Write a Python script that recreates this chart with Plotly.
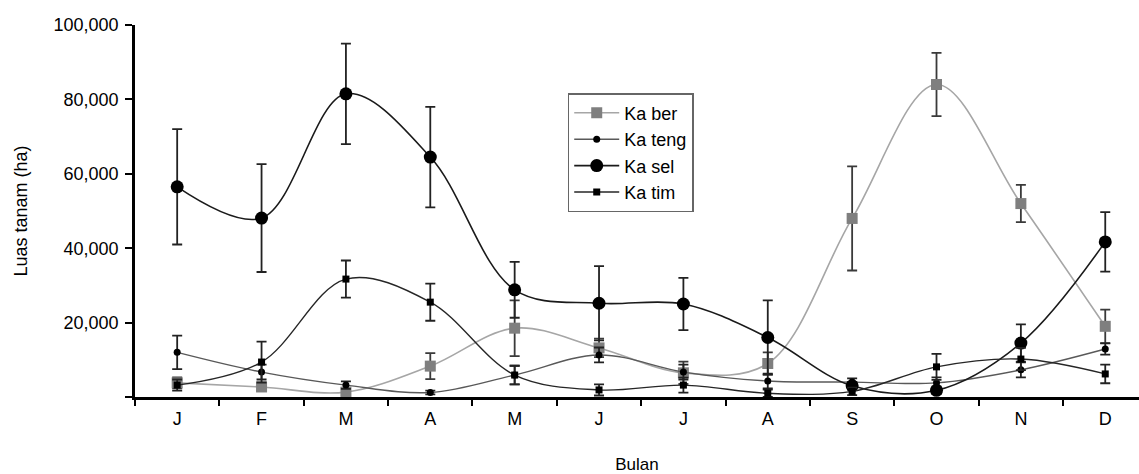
import plotly.graph_objects as go

months = ["Jan", "Feb", "Mar", "Apr", "May", "Jun", "Jul", "Aug", "Sep", "Oct", "Nov", "Dec"]
month_labels = ["J", "F", "M", "A", "M", "J", "J", "A", "S", "O", "N", "D"]

ka_ber = [3800, 2700, 1300, 8300, 18500, 13200, 6500, 9000, 48000, 84000, 52000, 19000]
ka_ber_err = [1500, 1000, 800, 3500, 7500, 2500, 3000, 3000, 14000, 8500, 5000, 4500]

ka_teng = [12000, 6700, 3200, 1200, 5900, 11300, 6700, 4300, 4000, 3800, 7300, 12900]
ka_teng_err = [4500, 2000, 1000, 500, 2500, 2000, 2000, 2000, 1000, 1500, 2000, 1500]

ka_sel = [56500, 48100, 81500, 64500, 28800, 25200, 25000, 16000, 3000, 1800, 14500, 41700]
ka_sel_err = [15500, 14500, 13500, 13500, 7500, 10000, 7000, 10000, 1000, 1000, 5000, 8000]

ka_tim = [3200, 9400, 31700, 25500, 5900, 1900, 3200, 1000, 1500, 8100, 10200, 6200]
ka_tim_err = [1500, 5500, 5000, 5000, 2500, 1500, 2000, 1000, 1000, 3500, 3000, 2500]

y_ticks = [0, 20000, 40000, 60000, 80000, 100000]
y_ticktext = ["", "20,000", "40,000", "60,000", "80,000", "100,000"]

FONT = "Liberation Sans, Arial, sans-serif"

fig = go.Figure()


def add(name, y, err, mcolor, msymbol, msize, lcolor, lwidth, ecolor, group):
    fig.add_trace(go.Scatter(
        x=months, y=y, name=name, mode="lines+markers",
        line=dict(color=lcolor, width=lwidth, shape="spline", smoothing=1),
        marker=dict(color=mcolor, symbol=msymbol, size=msize, line=dict(width=0)),
        error_y=dict(type="data", array=err, visible=True, color=ecolor,
                     thickness=1.8, width=5),
        legendgroup=group,
    ))


add("Ka ber", ka_ber, ka_ber_err, "#7f7f7f", "square", 11, "#a6a6a6", 1.6, "#3a3a3a", "g1")
add("Ka teng", ka_teng, ka_teng_err, "#000000", "circle", 7, "#595959", 1.4, "#222222", "g2")
add("Ka sel", ka_sel, ka_sel_err, "#000000", "circle", 13, "#1a1a1a", 1.6, "#222222", "g3")
add("Ka tim", ka_tim, ka_tim_err, "#000000", "square", 7, "#262626", 1.4, "#222222", "g4")

fig.update_layout(
    width=1139, height=474,
    margin=dict(l=135, r=0, t=25, b=77, autoexpand=False),
    paper_bgcolor="white", plot_bgcolor="white",
    font=dict(family=FONT, size=18, color="#000000"),
    showlegend=True,
    legend=dict(
        x=0.431, y=0.817, xanchor="left", yanchor="top",
        bgcolor="white", bordercolor="#666666", borderwidth=1.5,
        font=dict(family=FONT, size=18, color="#000000"),
        tracegroupgap=0, itemwidth=45,
        entrywidth=140, entrywidthmode="pixels",
    ),
    xaxis=dict(
        type="category", categoryorder="array", categoryarray=months,
        range=[-0.5, 11.4], automargin=False,
        tickmode="array", tickvals=months, ticktext=month_labels,
        tickson="boundaries",
        ticks="outside", ticklen=6, tickwidth=2, tickcolor="#000000",
        showline=True, linecolor="#000000", linewidth=2.5,
        showgrid=False, zeroline=False,
        ticklabelstandoff=4,
        title=dict(text="Bulan", font=dict(family=FONT, size=17), standoff=30),
        tickfont=dict(family=FONT, size=18),
    ),
    yaxis=dict(
        range=[0, 100000], automargin=False,
        tickmode="array", tickvals=y_ticks, ticktext=y_ticktext,
        ticks="outside", ticklen=7, tickwidth=2, tickcolor="#000000",
        showline=True, linecolor="#000000", linewidth=2.5,
        showgrid=False, zeroline=False,
        ticklabelstandoff=3,
        title=dict(text="Luas tanam (ha)", font=dict(family=FONT, size=18), standoff=22),
        tickfont=dict(family=FONT, size=18),
    ),
)

fig.write_html(
    "out.html",
    config={"displayModeBar": False},
    post_script="document.body.style.margin='0';document.body.style.overflow='hidden';",
)
